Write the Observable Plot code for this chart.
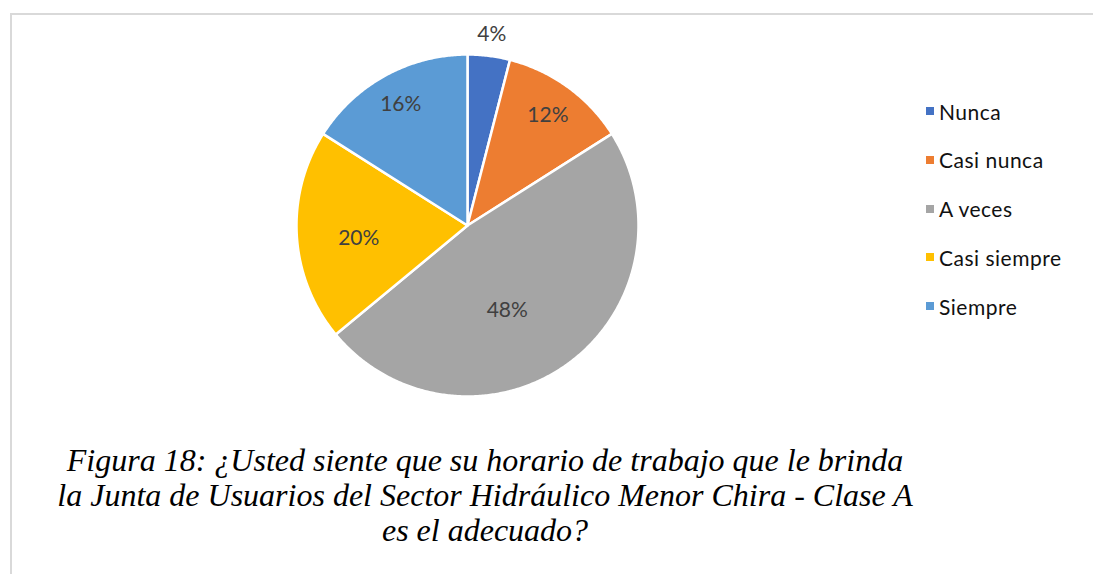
<!DOCTYPE html>
<html>
<head>
<meta charset="utf-8">
<script src="https://cdn.jsdelivr.net/npm/d3@7"></script>
<script src="https://cdn.jsdelivr.net/npm/@observablehq/plot@0.6"></script>
<style>
  html, body { margin: 0; padding: 0; background: #fff; }
  #wrap { position: relative; width: 1093px; height: 574px; overflow: hidden; background: #fff; }
  #frame { position: absolute; left: 10px; top: 13px; width: 2000px; height: 2000px;
           border-top: 2px solid #d9d9d9; border-left: 2px solid #d9d9d9; }
  #chart { position: absolute; left: 0; top: 0; }
  .leg { position: absolute; left: 926px; font-family: Lato, "Open Sans", sans-serif; font-size: 21px;
         letter-spacing: 0.5px; color: #111; display: flex; align-items: center; white-space: nowrap; }
  .leg .sw { width: 8px; height: 8px; margin-right: 5px; }
  #caption { position: absolute; left: 0; width: 970px; top: 443px; text-align: center;
             font-family: "Liberation Serif", "Times New Roman", serif; font-style: italic;
             font-size: 32px; line-height: 35px; color: #000; }
</style>
</head>
<body>
<div id="wrap">
  <div id="frame"></div>
  <div id="chart"></div>
  <div id="legend"></div>
  <div id="caption">Figura 18: ¿Usted siente que su horario de trabajo que le brinda<br>la Junta de Usuarios del Sector Hidráulico Menor Chira - Clase A<br>es el adecuado?</div>
</div>
<script>
// ---- data ----
const categories = ["Nunca", "Casi nunca", "A veces", "Casi siempre", "Siempre"];
const values = [4, 12, 48, 20, 16];
const labels = ["4%", "12%", "48%", "20%", "16%"];
const colors = ["#4472C4", "#ED7D31", "#A5A5A5", "#FFC000", "#5B9BD5"];

// ---- layout ----
const W = 1093, H = 420, cx = 467, cy = 225, R = 171;
const labelRadius = [1.13, 0.80, 0.55, 0.64, 0.81];   // fraction of radius
const labelTurn = [0, 0, 11, -3, 0];                  // degrees nudge from mid-angle

const arcs = d3.pie().sort(null).value(d => d)(values);
const slices = arcs.map((a, i) => {
  const pts = [{x: 0, y: 0}];
  const n = Math.max(4, Math.ceil((a.endAngle - a.startAngle) / (Math.PI / 360)));
  for (let k = 0; k <= n; k++) {
    const t = a.startAngle + (a.endAngle - a.startAngle) * k / n;
    pts.push({x: Math.sin(t), y: Math.cos(t)});
  }
  pts.push({x: 0, y: 0});
  return pts;
});
const labelData = arcs.map((a, i) => {
  const m = (a.startAngle + a.endAngle) / 2 + labelTurn[i] * Math.PI / 180;
  return {x: Math.sin(m) * labelRadius[i], y: Math.cos(m) * labelRadius[i], text: labels[i]};
});

const marks = slices.map((pts, i) =>
  Plot.line(pts, {x: "x", y: "y", fill: colors[i], stroke: "#fff", strokeWidth: 2.5, strokeLinejoin: "round"})
);
marks.push(Plot.text(labelData, {x: "x", y: "y", text: "text", fill: "#404040",
  fontSize: 21, fontFamily: "Lato, 'Open Sans', sans-serif"}));

const svg = Plot.plot({
  width: W, height: H, margin: 0,
  x: {domain: [-cx / R, (W - cx) / R], axis: null},
  y: {domain: [-(H - cy) / R, cy / R], axis: null},
  style: {background: "transparent", overflow: "visible"},
  marks
});
document.getElementById("chart").appendChild(svg);

// ---- legend ----
const legend = document.getElementById("legend");
categories.forEach((c, i) => {
  const row = document.createElement("div");
  row.className = "leg";
  row.style.top = (99 + i * 48.8) + "px";
  row.style.height = "24px";
  const sw = document.createElement("span");
  sw.className = "sw";
  sw.style.background = colors[i];
  const tx = document.createElement("span");
  tx.textContent = c;
  row.appendChild(sw); row.appendChild(tx);
  legend.appendChild(row);
});
</script>
</body>
</html>
